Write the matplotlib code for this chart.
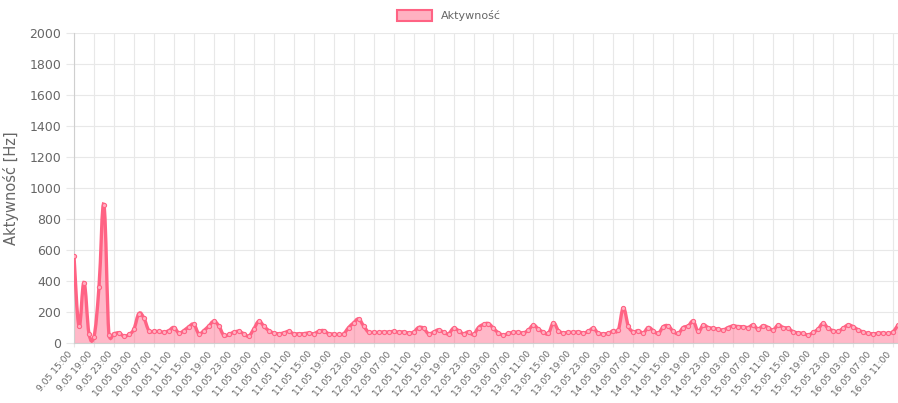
import matplotlib
matplotlib.use("Agg")
import matplotlib.pyplot as plt
from matplotlib.patches import Patch
from matplotlib.path import Path
from matplotlib.patches import PathPatch
import numpy as np
import pandas as pd

# hourly readings, 9.05 15:00 -> 16.05 12:00
start = "2024-05-09 15:00"
activity = [
    560, 110, 390, 60, 40, 360, 890, 50, 60, 65,
    45, 55, 90, 190, 160, 80, 75, 75, 70, 80,
    100, 65, 80, 105, 120, 60, 80, 110, 140, 110,
    50, 55, 70, 75, 60, 45, 90, 140, 110, 80,
    65, 60, 65, 75, 60, 60, 60, 65, 60, 75,
    80, 60, 58, 55, 60, 100, 130, 155, 110, 70,
    70, 68, 72, 70, 75, 70, 72, 65, 70, 100,
    95, 60, 70, 85, 70, 60, 95, 80, 60, 72,
    55, 100, 120, 125, 95, 65, 52, 62, 68, 70,
    65, 84, 115, 90, 70, 62, 130, 80, 65, 70,
    68, 72, 65, 75, 95, 62, 60, 62, 80, 85,
    225, 110, 73, 80, 65, 100, 80, 62, 105, 110,
    75, 62, 100, 110, 140, 75, 115, 100, 95, 90,
    84, 100, 110, 106, 105, 100, 116, 90, 112, 100,
    84, 116, 100, 95, 73, 65, 62, 52, 68, 90,
    127, 95, 80, 75, 95, 116, 106, 85, 72, 62,
    60, 62, 65, 62, 73, 116,
]
times = pd.date_range(start, periods=len(activity), freq="h")
labels = [f"{t.day}.{t.month:02d} {t:%H:%M}" for t in times]
label_step = 4

line_col = "#ff6384"
fill_col = (1.0, 0.39, 0.52, 0.45)
grid_col = "#e8e8e8"
text_col = "#666666"

fig = plt.figure(figsize=(8.98, 4.03), dpi=100)
ax = fig.add_axes([74 / 898, 1 - 343 / 403, 1 - 74 / 898, (343 - 33) / 403])

x = np.arange(len(activity))
y = np.array(activity, dtype=float)

# smooth curve like chart.js (tension 0.4), control points kept above 0
verts = [(x[0], y[0])]
codes = [Path.MOVETO]
t = 0.4
for i in range(len(x) - 1):
    p0 = (x[i - 1], y[i - 1]) if i > 0 else (x[i], y[i])
    p3 = (x[i + 2], y[i + 2]) if i + 2 < len(x) else (x[i + 1], y[i + 1])
    c1 = (x[i] + (x[i + 1] - p0[0]) * t / 2,
          max(0, y[i] + (y[i + 1] - p0[1]) * t / 2))
    c2 = (x[i + 1] - (p3[0] - x[i]) * t / 2,
          max(0, y[i + 1] - (p3[1] - y[i]) * t / 2))
    verts += [c1, c2, (x[i + 1], y[i + 1])]
    codes += [Path.CURVE4] * 3
fill_verts = verts + [(x[-1], 0), (x[0], 0), (x[0], y[0])]
fill_codes = codes + [Path.LINETO, Path.LINETO, Path.CLOSEPOLY]
ax.add_patch(PathPatch(Path(fill_verts, fill_codes), facecolor=fill_col,
                       edgecolor="none", zorder=2))
ax.add_patch(PathPatch(Path(verts, codes), facecolor="none", edgecolor=line_col,
                       lw=2.4, zorder=3))
ax.plot(x, y, ls="none", marker="o", ms=3.0, mfc="#ffb1c1", mec=line_col,
        mew=0.8, zorder=4)

ax.set_xlim(0, len(activity) - 1)
ax.set_ylim(0, 2000)
ax.set_yticks(range(0, 2001, 200))
ticks = list(range(0, len(activity), label_step))
ax.set_xticks(ticks)
ax.set_xticklabels([labels[i] for i in ticks], rotation=50, ha="right", va="bottom",
                   rotation_mode="anchor", fontsize=6.6, color=text_col)
ax.tick_params(axis="y", labelsize=9, colors=text_col, length=6, color=grid_col, pad=3)
ax.tick_params(axis="x", length=3, color=grid_col, pad=6)
ax.grid(True, color=grid_col, lw=0.8, zorder=0)
ax.set_axisbelow(True)
for side in ["top", "right"]:
    ax.spines[side].set_visible(False)
ax.spines["left"].set_color("#cfcfcf")
ax.spines["bottom"].set_color("#cfcfcf")
ax.set_ylabel("Aktywność [Hz]", fontsize=10.5, color=text_col, labelpad=8)

fig.legend(handles=[Patch(facecolor="#ffb1c1", edgecolor=line_col, lw=1.5,
                          label="Aktywność")],
           loc="upper center", bbox_to_anchor=(0.5, 1.0), frameon=False,
           fontsize=8, labelcolor=text_col, handlelength=3.2, handleheight=1.1)

fig.savefig("out.png", dpi=100)
